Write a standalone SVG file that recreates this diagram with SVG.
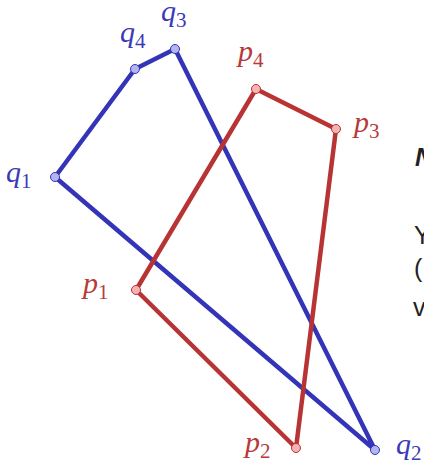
<svg xmlns="http://www.w3.org/2000/svg" width="424" height="463" viewBox="0 0 424 463">
<style>
.bl{fill:none;stroke:#3434b8;stroke-width:4.5;stroke-linejoin:round}
.rd{fill:none;stroke:#b83434;stroke-width:4.5;stroke-linejoin:round}
.bp{fill:#b4b4f0;stroke:#3434b8;stroke-width:1}
.rp{fill:#f4b4b4;stroke:#b83434;stroke-width:1}
.lb{font-family:"Liberation Serif",serif;font-style:italic;font-size:30px}
.lb tspan.s{font-style:normal;font-size:21px}
.bt{fill:#3a3ab8}
.rt{fill:#b83a3a}
.tx{font-family:"Liberation Sans",sans-serif;font-size:25px;fill:#222}
</style>
<g id="connectors">
<polygon class="bl" points="55,177 375,450 175,49 135,69"/>
<polygon class="rd" points="136,290 296,448 336,129 256,89"/>
</g>
<g id="q1"><circle class="bp" cx="55" cy="177" r="4.5"/><text class="lb bt" x="6" y="182">q<tspan class="s" dy="6">1</tspan></text></g>
<g id="q2"><circle class="bp" cx="375" cy="450" r="4.5"/><text class="lb bt" x="396" y="454">q<tspan class="s" dy="6">2</tspan></text></g>
<g id="q3"><circle class="bp" cx="175" cy="49" r="4.5"/><text class="lb bt" x="161" y="21">q<tspan class="s" dy="6">3</tspan></text></g>
<g id="q4"><circle class="bp" cx="135" cy="69" r="4.5"/><text class="lb bt" x="120" y="42">q<tspan class="s" dy="6">4</tspan></text></g>
<g id="p1"><circle class="rp" cx="136" cy="290" r="4.5"/><text class="lb rt" x="83" y="293">p<tspan class="s" dy="6">1</tspan></text></g>
<g id="p2"><circle class="rp" cx="296" cy="448" r="4.5"/><text class="lb rt" x="245" y="452">p<tspan class="s" dy="6">2</tspan></text></g>
<g id="p3"><circle class="rp" cx="336" cy="129" r="4.5"/><text class="lb rt" x="354" y="132">p<tspan class="s" dy="6">3</tspan></text></g>
<g id="p4"><circle class="rp" cx="256" cy="89" r="4.5"/><text class="lb rt" x="238" y="61">p<tspan class="s" dy="6">4</tspan></text></g>
<g id="text">
<text class="tx" x="415" y="166" font-weight="bold" font-style="italic">N</text>
<text class="tx" x="414" y="244">Y</text>
<text class="tx" x="414" y="277">(</text>
<text class="tx" x="413" y="316">v</text>
</g>
</svg>
